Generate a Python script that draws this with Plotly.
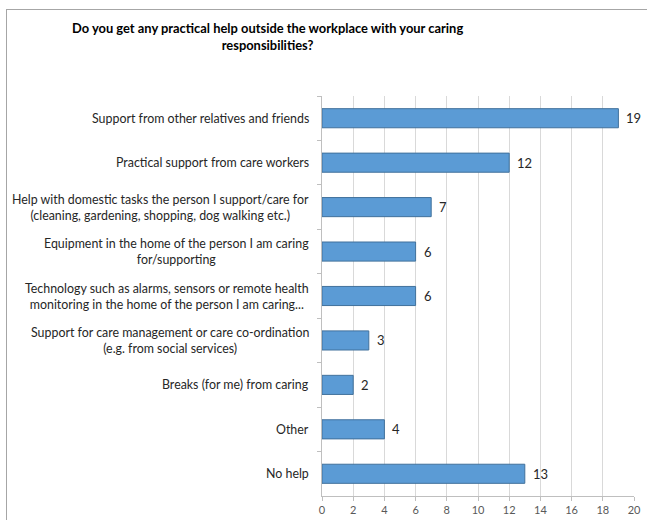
import plotly.graph_objects as go

categories = [
    "Support from other relatives and friends",
    "Practical support from care workers",
    "Help with domestic tasks the person I support/care for<br>(cleaning, gardening, shopping, dog walking etc.)",
    "Equipment in the home of the person I am caring<br>for/supporting",
    "Technology such as alarms, sensors or remote health<br>monitoring in the home of the person I am caring...",
    "Support for care management or care co-ordination<br>(e.g. from social services)",
    "Breaks (for me) from caring",
    "Other",
    "No help",
]
values = [19, 12, 7, 6, 6, 3, 2, 4, 13]
x_ticks = list(range(0, 21, 2))

W, H = 647, 520
ML, MR, MT, MB = 322, 13, 96, 24
PW, PH = W - ML - MR, H - MT - MB

FONT = "Lato, 'Open Sans', sans-serif"
TEXT = "#262626"

fig = go.Figure(
    go.Bar(
        y=categories,
        x=values,
        orientation="h",
        marker=dict(color="#5B9BD5", line=dict(color="#41719C", width=1)),
        width=0.43,
        hoverinfo="x+y",
    )
)

# category labels, lines centred within each label block
annotations = [
    dict(
        x=0, y=c, xref="x", yref="y", text=c, showarrow=False,
        xanchor="right", yanchor="middle", align="center", xshift=-11,
        font=dict(family=FONT, size=12.4, color=TEXT),
    )
    for c in categories
]

# value labels just past the end of each bar
annotations += [
    dict(
        x=v, y=c, xref="x", yref="y", text=str(v), showarrow=False,
        xanchor="left", yanchor="middle", xshift=6,
        font=dict(family=FONT, size=13, color=TEXT),
    )
    for c, v in zip(categories, values)
]


def px_x(p):
    return (p - ML) / PW


def px_y(p):
    return (H - MB - p) / PH


annotations.append(dict(
    x=px_x(267), y=px_y(36), xref="paper", yref="paper",
    text="<b>Do you get any practical help outside the workplace with your caring<br>responsibilities?</b>",
    showarrow=False, xanchor="center", yanchor="middle", align="center",
    font=dict(family=FONT, size=12.9, color="#000000"),
))

shapes = [
    dict(type="line", xref="paper", yref="paper",
         x0=px_x(6), x1=px_x(W), y0=px_y(9.5), y1=px_y(9.5),
         line=dict(color="#A6A6A6", width=1)),
    dict(type="line", xref="paper", yref="paper",
         x0=px_x(6.5), x1=px_x(6.5), y0=px_y(9.5), y1=px_y(H),
         line=dict(color="#A6A6A6", width=1)),
]

fig.update_layout(
    width=W, height=H,
    margin=dict(l=ML, r=MR, t=MT, b=MB, autoexpand=False),
    paper_bgcolor="white", plot_bgcolor="white",
    showlegend=False,
    annotations=annotations,
    shapes=shapes,
    font=dict(family=FONT, color=TEXT),
    xaxis=dict(
        range=[0, 20], tickvals=x_ticks, ticktext=[str(t) for t in x_ticks],
        showgrid=True, gridcolor="#D9D9D9", gridwidth=1,
        zeroline=False, showline=True, linecolor="#BFBFBF", linewidth=1,
        ticks="outside", ticklen=4, tickcolor="#BFBFBF",
        tickfont=dict(family=FONT, size=11, color="#595959"),
        automargin=False, fixedrange=True,
    ),
    yaxis=dict(
        categoryorder="array", categoryarray=categories, autorange="reversed",
        showticklabels=False, showgrid=False, zeroline=False,
        showline=True, linecolor="#BFBFBF", linewidth=1,
        ticks="outside", ticklen=4, tickcolor="#BFBFBF", tickson="boundaries",
        automargin=False, fixedrange=True,
    ),
)

fig.write_html("out.html", config={"displayModeBar": False})
